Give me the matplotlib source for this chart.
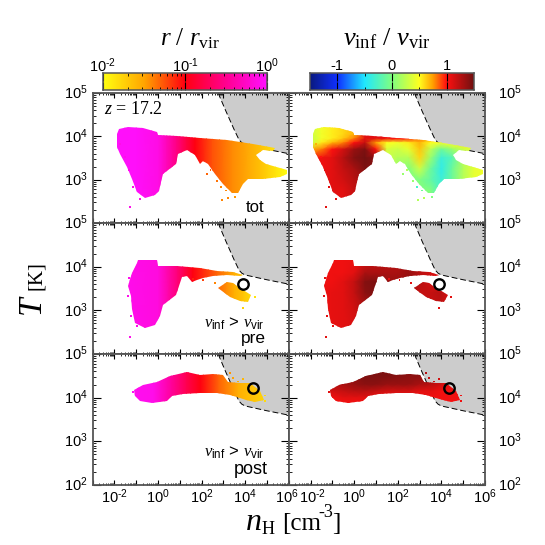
import matplotlib
matplotlib.use("Agg")
import matplotlib.pyplot as plt
from matplotlib.colors import LinearSegmentedColormap, Normalize
from matplotlib.patches import Polygon
from matplotlib.ticker import FixedLocator, NullFormatter
import numpy as np

plt.rcParams["font.family"] = "Liberation Sans"
plt.rcParams["mathtext.fontset"] = "custom"
plt.rcParams["mathtext.rm"] = "Liberation Sans"
plt.rcParams["mathtext.sf"] = "Liberation Serif"
plt.rcParams["mathtext.it"] = "Liberation Serif:italic"

# all outlines and tables are log10(nH), log10(T)
GRAY_N = [2.76, 3.1, 3.5, 3.72, 3.85, 4.0, 5.0, 6.0]
GRAY_T = [5.0, 4.6, 4.15, 3.92, 3.85, 3.81, 3.7, 3.6]

TOT_N = [-1.87, -1.78, -1.36, -0.68, -0.06, 0.01, 0.85, 1.92, 3.15, 4.37, 5.36, 5.26, 4.83, 4.52, 4.68, 4.98, 5.90, 5.93,
         5.59, 4.83, 4.14, 3.91, 3.68, 3.38, 2.99, 2.61, 2.31, 2.08, 1.92, 1.69, 1.31, 0.93, 0.81, 0.24, 0.12, 0.06, -0.14,
         -0.60, -0.98, -1.21, -1.44, -1.75, -1.90]
TOT_T = [4.06, 4.18, 4.22, 4.20, 4.10, 4.02, 4.00, 3.97, 3.91, 3.83, 3.73, 3.66, 3.68, 3.56, 3.45, 3.37, 3.22, 3.14,
         3.06, 3.02, 3.02, 2.91, 2.69, 2.69, 2.91, 3.14, 3.37, 3.43, 3.37, 3.56, 3.68, 3.60, 3.37, 3.14, 2.95, 2.75, 2.64,
         2.58, 2.72, 3.02, 3.29, 3.60, 3.75]

PRE_N = [-0.91, -0.06, 0.01, 0.85, 1.92, 2.69, 3.45, 3.91, 3.76, 3.15, 2.54, 2.08, 1.77, 1.54, 1.31, 1.08, 0.82, 0.24, 0.09,
         -0.14, -0.60, -1.06, -1.21, -1.26, -1.36, -1.21, -0.98]
PRE_T = [4.16, 4.15, 4.02, 4.01, 3.97, 3.91, 3.88, 3.82, 3.79, 3.82, 3.78, 3.74, 3.70, 3.66, 3.78, 3.76, 3.36, 3.13, 2.86,
         2.67, 2.60, 2.71, 3.02, 3.32, 3.55, 3.85, 4.08]
PRE_BLOB_N = [2.76, 3.15, 3.45, 3.76, 4.29, 4.14, 3.76, 3.30, 2.92]
PRE_BLOB_T = [3.51, 3.66, 3.63, 3.51, 3.36, 3.18, 3.21, 3.31, 3.44]

POST_N = [-1.10, -0.68, -0.06, 0.55, 1.31, 1.92, 2.54, 3.0, 3.22, 3.76, 4.22, 4.68, 4.86, 4.45, 4.06, 3.76, 3.30, 2.69,
          1.92, 1.16, 0.62, 0.39, -0.29, -0.83, -1.06]
POST_T = [4.17, 4.30, 4.37, 4.49, 4.58, 4.53, 4.55, 4.53, 4.37, 4.34, 4.34, 4.15, 3.95, 3.89, 3.95, 3.99, 4.07, 4.11,
          4.11, 4.09, 4.03, 3.92, 3.88, 3.92, 4.03]

# log10(r / r_vir) along nH, per row of panels
TOT_R_N = [-3, -1, 0, 0.4, 0.85, 1.3, 1.7, 2.5, 3.4, 4.7, 5.4, 6]
TOT_R = [-0.02, -0.03, -0.12, -0.32, -0.55, -0.8, -1.0, -1.25, -1.42, -1.65, -1.85, -2.0]
PRE_R_N = [-3, 0, 0.9, 1.6, 2.7, 3.5, 4.3, 6]
PRE_R = [-0.03, -0.15, -0.6, -1.0, -1.3, -1.55, -1.8, -1.9]
POST_R_N = [-3, -0.2, 0.6, 1.3, 1.95, 2.8, 3.7, 4.8, 6]
POST_R = [-0.02, -0.1, -0.45, -0.75, -1.0, -1.3, -1.55, -1.75, -1.85]

# vinf / vvir on a coarse (T, nH) grid
V_N = [-3, -2, -1.5, -1, -0.5, 0, 0.5, 1, 1.5, 2, 2.5, 3, 3.5, 4, 4.5, 5, 5.5, 6]
TOT_V_T = [4.25, 4.05, 3.95, 3.85, 3.7, 3.5, 3.25, 3.0, 2.75, 2.3]
TOT_V = [
    [.3, .3, .45, .55, .6, .7, 1.1, 1.1, 1.05, 1.0, .95, .8, .75, .6, .55, .55, .5, .5],
    [.3, .3, .45, .55, .6, .7, 1.1, 1.1, 1.05, 1.0, .95, .8, .75, .6, .55, .55, .5, .5],
    [.25, .25, .45, .55, .65, .8, 1.1, 1.1, 1.05, 1.0, .95, .8, .75, .6, .55, .55, .5, .5],
    [.3, .3, .55, .7, .8, 1.0, 1.2, .75, .5, .45, .55, .7, .5, .45, .5, .55, .5, .5],
    [.7, .7, .8, 1.0, 1.15, 1.35, 1.45, 1.0, .35, .3, .4, .65, .25, -.1, .1, .3, .4, .4],
    [1.0, 1.0, 1.05, 1.1, 1.25, 1.42, 1.48, 1.4, .3, .2, .2, .6, .1, -.35, -.2, .2, .35, .4],
    [1.05, 1.05, 1.05, 1.1, 1.2, 1.3, 1.45, 1.4, .2, .1, 0, .3, -.1, -.4, -.1, .2, .4, .45],
    [1.1, 1.1, 1.1, 1.1, 1.15, 1.25, 1.3, 1.2, .5, 0, 0, 0, -.15, -.35, -.1, .2, .4, .45],
    [1.1, 1.1, 1.1, 1.1, 1.1, 1.2, 1.25, 1.2, .5, 0, 0, 0, 0, -.3, -.1, .2, .4, .45],
    [1.1, 1.1, 1.1, 1.1, 1.1, 1.15, 1.2, 1.2, .5, 0, 0, 0, 0, -.3, -.1, .2, .4, .45],
]
PRE_V_T = [4.25, 3.85, 3.65, 3.4, 3.0, 2.3]
PRE_V = [
    [1.05, 1.05, 1.05, 1.05, 1.05, 1.05, 1.1, 1.2, 1.2, 1.25, 1.3, 1.25, 1.15, 1.1, 1.1, 1.1, 1.1, 1.1],
    [1.05, 1.05, 1.05, 1.05, 1.05, 1.1, 1.3, 1.3, 1.3, 1.3, 1.35, 1.25, 1.15, 1.1, 1.1, 1.1, 1.1, 1.1],
    [1.05, 1.05, 1.05, 1.05, 1.1, 1.2, 1.42, 1.45, 1.35, 1.35, 1.35, 1.25, 1.15, 1.1, 1.1, 1.1, 1.1, 1.1],
    [1.05, 1.05, 1.05, 1.08, 1.1, 1.2, 1.4, 1.45, 1.3, 1.3, 1.3, 1.2, 1.2, 1.25, 1.1, 1.05, 1.05, 1.05],
    [1.05, 1.05, 1.05, 1.08, 1.1, 1.15, 1.25, 1.3, 1.2, 1.2, 1.2, 1.2, 1.2, 1.2, 1.05, 1.05, 1.05, 1.05],
    [1.05, 1.05, 1.05, 1.08, 1.1, 1.1, 1.2, 1.2, 1.2, 1.2, 1.2, 1.2, 1.2, 1.2, 1.05, 1.05, 1.05, 1.05],
]
POST_V_T = [4.7, 4.5, 4.3, 4.15, 4.0, 3.8]
POST_V = [
    [1.3, 1.3, 1.3, 1.3, 1.3, 1.4, 1.45, 1.45, 1.45, 1.42, 1.4, 1.4, 1.3, 1.2, 1.1, 1.05, 1.05, 1.05],
    [1.3, 1.3, 1.3, 1.3, 1.3, 1.4, 1.45, 1.45, 1.45, 1.42, 1.4, 1.4, 1.3, 1.2, 1.1, 1.05, 1.05, 1.05],
    [1.25, 1.25, 1.25, 1.25, 1.3, 1.35, 1.4, 1.4, 1.35, 1.35, 1.35, 1.3, 1.25, 1.15, 1.1, 1.05, 1.05, 1.05],
    [1.15, 1.15, 1.15, 1.15, 1.2, 1.25, 1.25, 1.2, 1.15, 1.15, 1.15, 1.1, 1.1, 1.05, 1.05, 1.05, 1.05, 1.05],
    [1.05, 1.05, 1.05, 1.05, 1.1, 1.1, 1.1, 1.05, 1.05, 1.05, 1.05, 1.05, 1.05, 1.05, 1.05, 1.05, 1.05, 1.05],
    [1.0, 1.0, 1.0, 1.0, 1.0, 1.0, 1.0, 1.0, 1.0, 1.0, 1.0, 1.0, 1.0, 1.0, 1.0, 1.0, 1.0, 1.0],
]

# stray cells outside the outlines: nH, T, log r, vinf
TOT_SPECK_N = [-1.29, 2.23, 2.41, 2.69, 2.92, 3.22, 2.87, -1.75, -1.52, -1.32, -1.17, -0.83, 3.55, 3.1]
TOT_SPECK_T = [2.37, 3.14, 3.22, 2.98, 2.54, 2.58, 2.82, 3.83, 3.52, 3.22, 2.83, 2.56, 2.6, 2.75]
TOT_SPECK_R = [-0.1, -1.3, -1.3, -1.35, -1.4, -1.4, -1.4, -0.1, -0.1, -0.1, -0.1, -0.1, -1.45, -1.4]
TOT_SPECK_V = [1.1, .1, .2, .1, .2, .2, -.3, .7, 1.0, 1.1, 1.1, 1.1, 0, -.1]
PRE_SPECK_N = [-1.29, -1.36, -1.32, -1.26, -0.98, 1.62, 2.08, 3.91, 4.45, 2.6]
PRE_SPECK_T = [2.39, 3.32, 3.74, 2.86, 2.65, 3.72, 3.69, 3.05, 3.3, 3.62]
PRE_SPECK_R = [-0.1, -0.1, -0.1, -0.1, -0.1, -1.1, -1.2, -1.75, -1.85, -1.4]
PRE_SPECK_V = [1.1] * 10
POST_SPECK_N = [4.9, 3.45, 3.68, 3.30, -1.15, 3.9, 4.9]
POST_SPECK_T = [3.93, 4.45, 4.37, 4.56, 4.12, 4.42, 4.05]
POST_SPECK_R = [-1.8, -1.5, -1.55, -1.45, -0.05, -1.6, -1.8]
POST_SPECK_V = [1.05, 1.2, 1.2, 1.25, 1.1, 1.15, 1.05]

CIRCLE_N = [None, 3.91, 4.37]
CIRCLE_T = [None, 3.61, 4.22]

R_CMAP = LinearSegmentedColormap.from_list(
    "r", [(0, "#ffff10"), (0.25, "#ffa500"), (0.5, "#ff0010"), (0.75, "#ff0090"), (1, "#ff10ff")])
V_CMAP = LinearSegmentedColormap.from_list(
    "v", [(0, "#0a1a80"), (0.167, "#1030ff"), (0.333, "#20e8ff"), (0.5, "#80ff80"), (0.667, "#ffff20"),
          (0.75, "#ffa000"), (0.833, "#ff1010"), (1, "#701010")])
R_NORM = Normalize(-2, 0)
V_NORM = Normalize(-1.5, 1.5)

W = H = 545
FRAME = "#555555"
SERIF = "Liberation Serif"


def px_axes(fig, x0, y0, x1, y1):
    """Axes from pixel box, y measured from the top."""
    return fig.add_axes([x0 / W, 1 - y1 / H, (x1 - x0) / W, (y1 - y0) / H])


def fill_blob(ax, out_n, out_t, nodes_n, nodes_t, values, cmap, norm):
    x, y = np.meshgrid(10.0 ** np.array(nodes_n), 10.0 ** np.array(nodes_t))
    mesh = ax.pcolormesh(x, y, np.array(values), shading="gouraud", cmap=cmap, norm=norm, zorder=2)
    clip = Polygon(np.column_stack([10.0 ** np.array(out_n), 10.0 ** np.array(out_t)]), transform=ax.transData)
    mesh.set_clip_path(clip)


def style_panel(ax, ymin):
    ax.set_xscale("log")
    ax.set_yscale("log")
    ax.set_xlim(1e-3, 1e6)
    ax.set_ylim(10.0 ** ymin, 1e5)
    gray_x = 10.0 ** np.array(GRAY_N)
    gray_y = 10.0 ** np.array(GRAY_T)
    ax.fill(np.r_[gray_x, 1e6], np.r_[gray_y, 1e5], color="#cccccc", lw=0, zorder=1)
    ax.plot(gray_x, gray_y, color="black", lw=0.7, ls=(0, (6, 3)), zorder=1.5)
    ax.xaxis.set_major_locator(FixedLocator(10.0 ** np.arange(-3, 7)))
    ax.xaxis.set_minor_locator(FixedLocator([m * 10.0 ** e for e in range(-3, 6) for m in range(2, 10)]))
    ax.yaxis.set_major_locator(FixedLocator([1e2, 1e3, 1e4, 1e5]))
    ax.yaxis.set_minor_locator(FixedLocator([m * 10.0 ** e for e in range(2, 5) for m in range(2, 10)]))
    ax.xaxis.set_major_formatter(NullFormatter())
    ax.xaxis.set_minor_formatter(NullFormatter())
    ax.yaxis.set_major_formatter(NullFormatter())
    ax.yaxis.set_minor_formatter(NullFormatter())
    ax.tick_params(axis="x", which="major", direction="in", top=True, length=3.6, width=0.8)
    ax.tick_params(axis="x", which="minor", direction="in", top=True, length=1.6, width=0.6)
    ax.tick_params(axis="y", which="major", direction="in", right=True, length=6, width=0.8)
    ax.tick_params(axis="y", which="minor", direction="in", right=True, length=2.2, width=0.6)
    for sp in ax.spines.values():
        sp.set_color(FRAME)
        sp.set_linewidth(1.3)
        sp.set_zorder(5)


def power_label(e):
    sign = r"\text{-}" if e < 0 else ""
    return rf"$\mathrm{{10^{{{sign}{abs(e)}}}}}$"


def tick_text(fig, x, y, label, ha="center"):
    fig.text(x / W, 1 - y / H, label, ha=ha, va="center", fontsize=10.5)


def draw_colorbar(fig, x0, x1, cmap, norm, major, minor, labels):
    ax = px_axes(fig, x0, 73, x1, 90)
    ax.imshow(np.linspace(0, 1, 256)[None, :], aspect="auto", cmap=cmap, extent=[0, 1, 0, 1])
    ax.set_yticks([])
    ax.set_xlim(0, 1)
    pos = lambda vals: [(v - norm.vmin) / (norm.vmax - norm.vmin) for v in vals]
    ax.xaxis.set_major_locator(FixedLocator(pos(major)))
    ax.xaxis.set_minor_locator(FixedLocator(pos(minor)))
    ax.xaxis.set_major_formatter(NullFormatter())
    ax.tick_params(axis="x", which="major", direction="in", top=True, length=6, width=0.8)
    ax.tick_params(axis="x", which="minor", direction="in", top=True, length=2.5, width=0.6)
    for sp in ax.spines.values():
        sp.set_color(FRAME)
        sp.set_linewidth(1.1)
    for v, lab in zip(major, labels):
        xp = x0 + (v - norm.vmin) / (norm.vmax - norm.vmin) * (x1 - x0)
        fig.text(xp / W, 1 - 66 / H, lab, ha="center", va="center", fontsize=10.5)


fig = plt.figure(figsize=(W / 100, H / 100), dpi=100)

ROWS = [(93, 223, 2), (223, 354, 2), (354, 485, 2)]
COLS = [(92.7, 288.7), (288.7, 485)]

panels = {}
for i, (top, bot, ymin) in enumerate(ROWS):
    for j, (x0, x1) in enumerate(COLS):
        ax = px_axes(fig, x0, top, x1, bot)
        style_panel(ax, ymin)
        panels[i, j] = ax

r_rows = [(TOT_R_N, TOT_R), (PRE_R_N, PRE_R), (POST_R_N, POST_R)]
v_rows = [(TOT_V_T, TOT_V), (PRE_V_T, PRE_V), (POST_V_T, POST_V)]
outlines = [[(TOT_N, TOT_T)], [(PRE_N, PRE_T), (PRE_BLOB_N, PRE_BLOB_T)], [(POST_N, POST_T)]]
specks = [(TOT_SPECK_N, TOT_SPECK_T, TOT_SPECK_R, TOT_SPECK_V),
          (PRE_SPECK_N, PRE_SPECK_T, PRE_SPECK_R, PRE_SPECK_V),
          (POST_SPECK_N, POST_SPECK_T, POST_SPECK_R, POST_SPECK_V)]

for i in range(3):
    for out_n, out_t in outlines[i]:
        nodes, vals = r_rows[i]
        fill_blob(panels[i, 0], out_n, out_t, nodes, [2, 5], [vals, vals], R_CMAP, R_NORM)
        nodes_t, table = v_rows[i]
        fill_blob(panels[i, 1], out_n, out_t, V_N, nodes_t, table, V_CMAP, V_NORM)
    sn, st, sr, sv = specks[i]
    sx, sy = 10.0 ** np.array(sn), 10.0 ** np.array(st)
    panels[i, 0].scatter(sx, sy, c=sr, cmap=R_CMAP, norm=R_NORM, s=2, marker="s", linewidths=0, zorder=2)
    panels[i, 1].scatter(sx, sy, c=sv, cmap=V_CMAP, norm=V_NORM, s=2, marker="s", linewidths=0, zorder=2)
    if CIRCLE_N[i] is not None:
        for j in range(2):
            panels[i, j].plot(10.0 ** CIRCLE_N[i], 10.0 ** CIRCLE_T[i], "o", ms=7.5, mfc="none", mec="black", mew=1.7, zorder=4)

# y tick labels by hand so they sit like the original
exps = {0: [(5, 93), (4, 137), (3, 180)], 1: [(5, 223), (4, 267), (3, 311)], 2: [(5, 354), (4, 398), (3, 441), (2, 485)]}
for i, items in exps.items():
    for e, y in items:
        tick_text(fig, 88, y, power_label(e), ha="right")
        tick_text(fig, 498, y, power_label(e), ha="left")

for j, (x0, x1) in enumerate(COLS):
    for e in [-2, 0, 2, 4, 6]:
        xp = x0 + (e + 3) * (x1 - x0) / 9
        # 10^6 of the left column and 10^-2 of the right one nearly touch
        if j == 0 and e == 6:
            xp -= 2
        if j == 1 and e == -2:
            xp += 2
        tick_text(fig, xp, 497, power_label(e))

draw_colorbar(fig, 103, 267, R_CMAP, Normalize(-2, 0), [-2, -1, 0],
              [np.log10(m) + e for e in (-2, -1) for m in range(2, 10)],
              [power_label(-2), power_label(-1), power_label(0)])
draw_colorbar(fig, 310, 474, V_CMAP, V_NORM, [-1, 0, 1], [-0.5, 0.5], ["-1", "0", "1"])

fig.text(190 / W, 1 - 39 / H, r"$r$ / $r_{\mathsf{vir}}$", ha="center", va="center", fontsize=18, family=SERIF)
fig.text(387 / W, 1 - 39 / H, r"$v_{\mathsf{inf}}$ / $v_{\mathsf{vir}}$", ha="center", va="center", fontsize=19, family=SERIF)

# T [K]: the symbol is set much larger than the unit
fig.text(34 / W, 1 - 306 / H, r"$T$", ha="center", va="center", rotation=90, fontsize=24, family=SERIF)
fig.text(37 / W, 1 - 276 / H, "[K]", ha="center", va="center", rotation=90, fontsize=15, family=SERIF)

# nH [cm-3], same idea
fig.text(245 / W, 1 - 530 / H, r"$n$", ha="left", va="baseline", fontsize=23, family=SERIF)
fig.text(262 / W, 1 - 534 / H, "H", ha="left", va="baseline", fontsize=13, family=SERIF)
fig.text(282 / W, 1 - 530 / H, "[cm", ha="left", va="baseline", fontsize=18, family=SERIF)
fig.text(318 / W, 1 - 517 / H, "-3", ha="left", va="baseline", fontsize=13, family=SERIF)
fig.text(332 / W, 1 - 530 / H, "]", ha="left", va="baseline", fontsize=18, family=SERIF)

fig.text(133 / W, 1 - 109 / H, r"$z$ = 17.2", ha="center", va="center", fontsize=13, family=SERIF)

fig.text(255 / W, 1 - 207 / H, "tot", ha="center", va="center", fontsize=12)
fig.text(234 / W, 1 - 324 / H, r"$v_{\mathrm{inf}}$ > $v_{\mathrm{vir}}$", ha="center", va="center", fontsize=12)
fig.text(253 / W, 1 - 339 / H, "pre", ha="center", va="center", fontsize=12.5)
fig.text(234 / W, 1 - 453 / H, r"$v_{\mathrm{inf}}$ > $v_{\mathrm{vir}}$", ha="center", va="center", fontsize=12)
fig.text(251 / W, 1 - 469 / H, "post", ha="center", va="center", fontsize=13)

fig.savefig("out.png", dpi=100)
